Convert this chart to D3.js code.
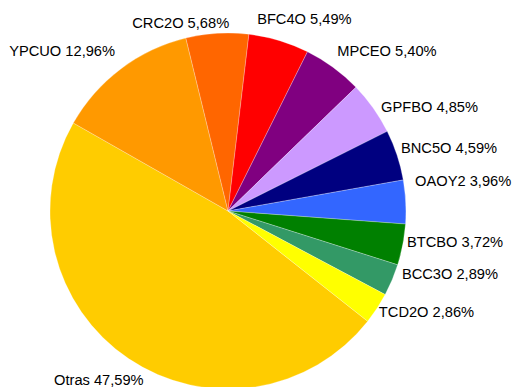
<!DOCTYPE html>
<html>
<head>
<meta charset="utf-8">
<script src="https://cdn.jsdelivr.net/npm/d3@7/dist/d3.min.js"></script>
<style>
  html, body { margin: 0; padding: 0; background: #ffffff; }
  svg { display: block; }
  text { font-family: "Liberation Sans", Arial, sans-serif; font-size: 14.67px; fill: #000; }
</style>
</head>
<body>
<div id="chart"></div>
<script>
// Shares per category, largest first (clockwise from the "Otras" slice)
const categories = ["Otras", "YPCUO", "CRC2O", "BFC4O", "MPCEO", "GPFBO", "BNC5O", "OAOY2", "BTCBO", "BCC3O", "TCD2O"];
const shares = [47.59, 12.96, 5.68, 5.49, 5.40, 4.85, 4.59, 3.96, 3.72, 2.89, 2.86];
const labels = ["Otras 47,59%", "YPCUO 12,96%", "CRC2O 5,68%", "BFC4O 5,49%", "MPCEO 5,40%", "GPFBO 4,85%",
                "BNC5O 4,59%", "OAOY2 3,96%", "BTCBO 3,72%", "BCC3O 2,89%", "TCD2O 2,86%"];

const colors = ["#FFCC00", "#FF9900", "#FF6600", "#FF0000", "#800080", "#CC99FF",
                "#000080", "#3366FF", "#008000", "#339966", "#FFFF00"];

// Label offsets (px) applied after the automatic outside placement, to keep labels apart
const labelNudge = [[2.6, 5.6], [-19, -3.7], [-32.8, 7.6], [8.2, -4.2], [16.6, -1.9], [6.1, 9.3],
                    [-5.9, -1.5], [-3.6, -20.1], [-7.7, -6.2], [1.6, -13.2], [-1.3, -6.7]];

const W = 513, H = 387;
const cx = 228, cy = 211, r = 178, labelR = 191;
const firstAngle = 128.3 * Math.PI / 180;

const svg = d3.select("#chart").append("svg")
  .attr("width", W).attr("height", H)
  .attr("viewBox", [0, 0, W, H]);

svg.append("rect").attr("width", W).attr("height", H).attr("fill", "#fff");

const data = categories.map((c, i) => ({ name: c, value: shares[i], label: labels[i], i }));

const pie = d3.pie().sort(null).value(d => d.value)
  .startAngle(firstAngle).endAngle(firstAngle + 2 * Math.PI);
const arcs = pie(data);

const arc = d3.arc().innerRadius(0).outerRadius(r);

const g = svg.append("g").attr("transform", `translate(${cx},${cy})`);

g.selectAll("path.slice")
  .data(arcs)
  .join("path")
  .attr("class", "slice")
  .attr("d", arc)
  .attr("fill", d => colors[d.data.i])
  .attr("stroke", "#ffffff")
  .attr("stroke-opacity", 0.5)
  .attr("stroke-width", 0.5);

// Outside labels: the text box touches the point on the label circle on its side facing the centre
const capHalf = 5.25;
const texts = g.selectAll("text.lbl")
  .data(arcs)
  .join("text")
  .attr("class", "lbl")
  .text(d => d.data.label);

texts.each(function (d) {
  const w = this.getComputedTextLength();
  const mid = (d.startAngle + d.endAngle) / 2;
  const s = Math.sin(mid), c = Math.cos(mid);
  const px = labelR * s, py = -labelR * c;
  const left = px + (w / 2) * (s - 1);
  const base = py + capHalf * (1 - c);
  const n = labelNudge[d.data.i];
  d3.select(this).attr("x", left + n[0]).attr("y", base + n[1]);
});
</script>
</body>
</html>
